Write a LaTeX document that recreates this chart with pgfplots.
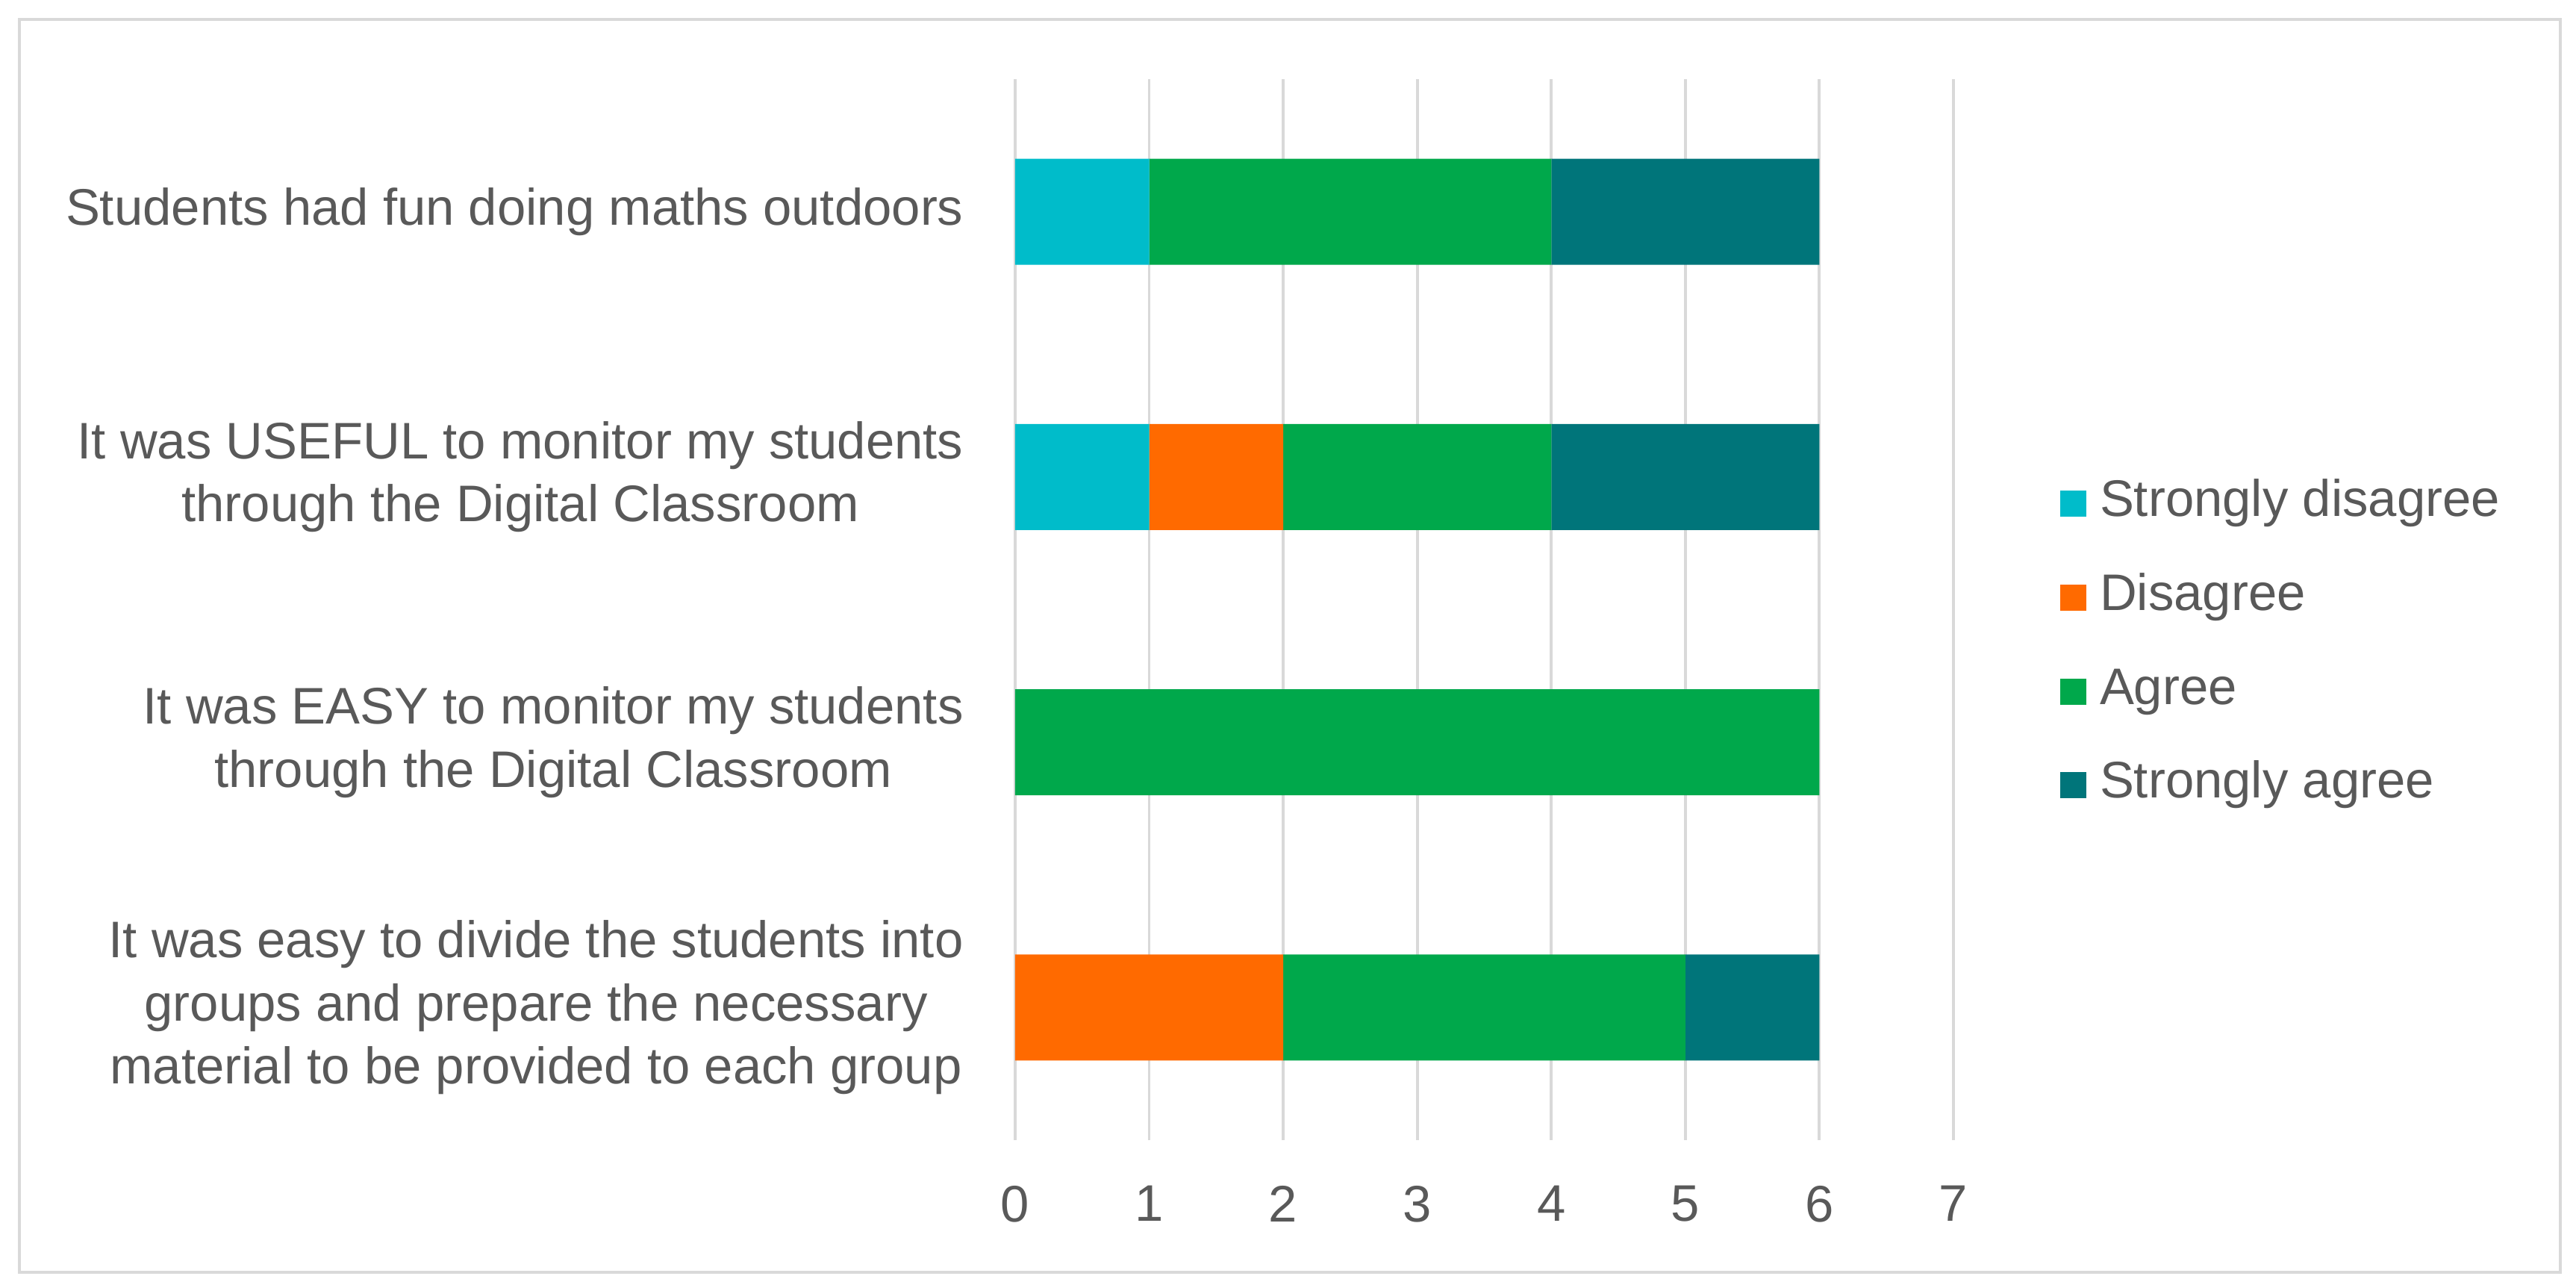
\documentclass[border=0pt]{standalone}
\usepackage{fontspec}
\setmainfont{Liberation Sans}
\usepackage{pgfplots}
\pgfplotsset{compat=1.18}
\definecolor{sdis}{RGB}{0,188,202}
\definecolor{dis}{RGB}{255,106,0}
\definecolor{agr}{RGB}{0,168,75}
\definecolor{sagr}{RGB}{0,117,122}
\definecolor{txtgray}{RGB}{89,89,89}
\definecolor{gridgray}{RGB}{217,217,217}
\begin{document}
\begin{tikzpicture}[font=\fontsize{9.8}{12}\selectfont]
\path[use as bounding box] (-6.8,-0.95) rectangle (10.455,7.635);
\draw[gridgray, line width=0.6pt] (-6.67,-0.885) rectangle (10.35,7.505);
\begin{axis}[
  at={(0,0)}, anchor=south west,
  scale only axis,
  width=6.285cm, height=7.105cm,
  xbar stacked,
  bar width=0.4,
  xmin=0, xmax=7,
  ymin=0.5, ymax=4.5,
  xtick={0,1,2,3,4,5,6,7},
  ytick={1,2,3,4},
  yticklabels={
    {It was easy to divide the students into\\groups and prepare the necessary\\material to be provided to each group},
    {It was EASY to monitor my students\\through the Digital Classroom},
    {It was USEFUL to monitor my students\\through the Digital Classroom},
    {Students had fun doing maths outdoors}},
  /pgf/number format/assume math mode=true,
  axis line style={draw=none},
  major tick length=0pt,
  xmajorgrids,
  grid style={gridgray, line width=0.55pt},
  tick label style={font=\fontsize{9.8}{12}\selectfont, text=txtgray},
  xticklabel style={inner sep=0pt, yshift=-0.30cm},
  yticklabel style={inner sep=0pt, xshift=-0.34cm, align=center},
  legend cell align=left,
  legend style={draw=none, fill=none, inner sep=0pt, at={(1.113,0.4675)}, anchor=west,
    row sep=8.9pt, font=\fontsize{9.8}{12}\selectfont, text=txtgray,
    nodes={inner sep=0pt, text height=7pt, text depth=2pt},
    /tikz/every odd column/.append style={column sep=2.5pt}},
  legend image code/.code={\fill[#1] (0cm,-0.09cm) rectangle (0.175cm,0.085cm);},
]
\addplot[fill=sdis, draw=none] coordinates {(0,1) (0,2) (1,3) (1,4)};
\addplot[fill=dis, draw=none] coordinates {(2,1) (0,2) (1,3) (0,4)};
\addplot[fill=agr, draw=none] coordinates {(3,1) (6,2) (2,3) (3,4)};
\addplot[fill=sagr, draw=none] coordinates {(1,1) (0,2) (2,3) (2,4)};
\legend{Strongly disagree, Disagree, Agree, Strongly agree}
\end{axis}
\end{tikzpicture}
\end{document}
